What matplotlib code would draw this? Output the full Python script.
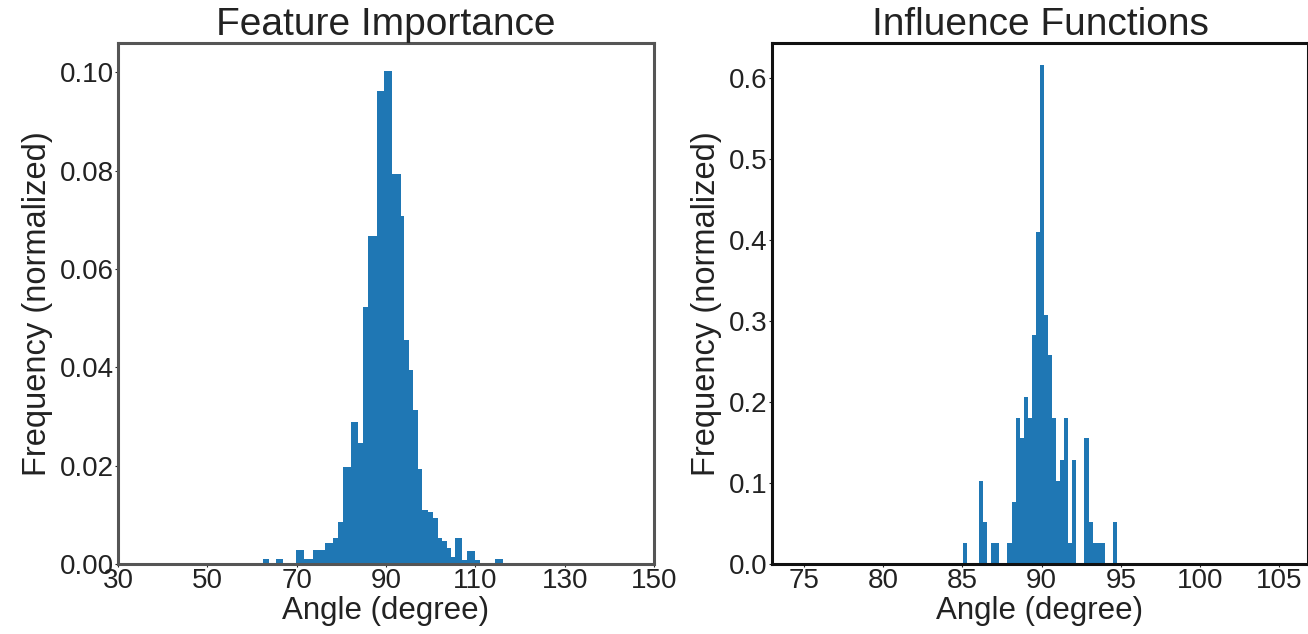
import matplotlib.pyplot as plt
import numpy as np

plt.rcParams["font.family"] = ["Liberation Sans", "DejaVu Sans"]

# Feature importance: bin edges (degrees) and normalized frequency of each bin
fi_edges = [62.4, 63.9, 65.4, 66.9, 69.9, 71.7, 73.6, 76.3, 78.1, 79.3,
            80.4, 82.2, 83.7, 84.9, 86.0, 87.9, 89.6, 91.4, 93.3, 94.1,
            95.1, 96.1, 97.2, 98.0, 99.5, 100.6, 101.6, 102.5, 103.6, 104.6,
            105.5, 107.1, 108.1, 109.9, 111.1, 114.5, 116.3]
fi_freq = [0.0010, 0.0, 0.0010, 0.0, 0.0028, 0.0010, 0.0028, 0.0043, 0.0052,
           0.0086, 0.0197, 0.0289, 0.0246, 0.0522, 0.0668, 0.0962, 0.1003,
           0.0793, 0.0708, 0.0455, 0.0394, 0.0313, 0.0194, 0.0110, 0.0106,
           0.0093, 0.0052, 0.0046, 0.0032, 0.0015, 0.0052, 0.0008, 0.0027,
           0.0008, 0.0, 0.0010]

# Influence functions: equal-width bins starting at if_start
if_start = 85.04
if_width = 0.2555
if_freq = [0.026, 0.0, 0.0, 0.0, 0.103, 0.052, 0.0, 0.026, 0.026, 0.0,
           0.0, 0.026, 0.077, 0.180, 0.155, 0.206, 0.180, 0.283, 0.410, 0.616,
           0.307, 0.258, 0.180, 0.103, 0.128, 0.180, 0.026, 0.128, 0.0, 0.0,
           0.155, 0.052, 0.026, 0.026, 0.026, 0.0, 0.0, 0.052]
if_edges = if_start + if_width * np.arange(len(if_freq) + 1)

fi_xticks = [30, 50, 70, 90, 110, 130, 150]
if_xticks = [75, 80, 85, 90, 95, 100, 105]

bar_color = "#1f77b4"
text_color = "#222222"
W, H = 1308, 634

fig = plt.figure(figsize=(W / 100, H / 100), dpi=100)
ax1 = fig.add_axes([118 / W, 1 - 564 / H, 536 / W, 521 / H])
ax2 = fig.add_axes([772 / W, 1 - 564 / H, 536 / W, 521 / H])


def style(ax, frame_color, title):
    for sp in ax.spines.values():
        sp.set_color(frame_color)
        sp.set_linewidth(2.2)
    ax.tick_params(length=2, width=0.8, pad=1, labelsize=20, colors=text_color)
    ax.set_title(title, fontsize=28, color=text_color, pad=0)
    ax.set_xlabel("Angle (degree)", fontsize=22.5, color=text_color, labelpad=1)
    ax.set_ylabel("Frequency (normalized)", fontsize=23.5, color=text_color,
                  labelpad=5)


ax1.stairs(fi_freq, fi_edges, fill=True, color=bar_color, linewidth=0)
ax1.set_xlim(30, 150)
ax1.set_ylim(0, 0.106)
ax1.set_xticks(fi_xticks)
ax1.set_yticks([0.0, 0.02, 0.04, 0.06, 0.08, 0.10])
ax1.yaxis.set_major_formatter(plt.FormatStrFormatter("%.2f"))
style(ax1, "#555555", "Feature Importance")

ax2.stairs(if_freq, if_edges, fill=True, color=bar_color, linewidth=0)
ax2.set_xlim(73.0, 106.8)
ax2.set_ylim(0, 0.643)
ax2.set_xticks(if_xticks)
ax2.set_yticks([0.0, 0.1, 0.2, 0.3, 0.4, 0.5, 0.6])
ax2.yaxis.set_major_formatter(plt.FormatStrFormatter("%.1f"))
style(ax2, "#111111", "Influence Functions")

fig.savefig("out.png", dpi=100)
